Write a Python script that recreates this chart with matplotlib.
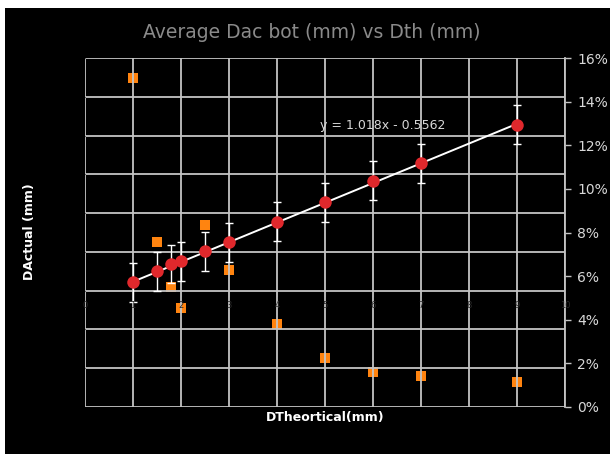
import matplotlib
matplotlib.use("Agg")
import matplotlib.pyplot as plt
import numpy as np
from matplotlib.patches import Rectangle
from matplotlib.ticker import FuncFormatter

# Data
d_th = [1, 1.5, 1.8, 2, 2.5, 3, 4, 5, 6, 7, 9]
d_actual = [0.43, 0.99, 1.37, 1.51, 2.03, 2.50, 3.56, 4.56, 5.67, 6.56, 8.56]
d_err = [1, 1, 1, 1, 1, 1, 1, 1, 1, 1, 1]
pct_err = [15.1, 7.55, 5.5, 4.54, 8.33, 6.27, 3.82, 2.26, 1.59, 1.44, 1.13]
slope, intercept = 1.018, -0.5562
x_ticks = [0, 1, 2, 3, 4, 5, 6, 7, 8, 9, 10]
y_ticks = [-6, -4, -2, 0, 2, 4, 6, 8, 10, 12]
pct_ticks = [0, 2, 4, 6, 8, 10, 12, 14, 16]

fig = plt.figure(figsize=(6.10, 4.57), dpi=100, facecolor="white")
fig.patches.append(Rectangle((5/610, 3/457), 605/610, (449-3)/457, transform=fig.transFigure,
                             facecolor="black", edgecolor="none", zorder=-5))

ax = fig.add_axes([85/610, 1-407/457, 480/610, 349/457])
ax.set_xlim(0, 10)
ax.set_ylim(-6, 12)
ax.set_xticks(x_ticks)
ax.set_yticks(y_ticks)
ax.grid(True, color="#c4c4c4", lw=1.3, zorder=1)
for s in ax.spines.values():
    s.set_visible(False)
ax.tick_params(axis="y", left=False, labelleft=False)
ax.tick_params(axis="x", bottom=False, labelbottom=False)
# dim x tick labels at y=0
for xv in x_ticks:
    ax.text(xv, -0.55, str(xv), color="#2a2a2a", fontsize=6, ha="center", va="top", zorder=6)
    ax.plot([xv, xv], [0, -0.3], color="#2a2a2a", lw=0.8, zorder=1.5)

ax2 = ax.twinx()
ax2.set_ylim(0, 16)
ax2.set_yticks(pct_ticks)
ax2.yaxis.set_major_formatter(FuncFormatter(lambda v, p: f"{v:.0f}%"))
for s in ["top", "left", "bottom"]:
    ax2.spines[s].set_visible(False)
ax2.spines["right"].set_color("#c4c4c4")
ax2.spines["right"].set_linewidth(1.3)
ax2.tick_params(axis="y", colors="#c4c4c4", labelcolor="#d8d8d8", labelsize=10,
                length=4, width=1, direction="out", pad=5)
ax2.scatter(d_th, pct_err, marker="s", s=60, color="#ff8410", zorder=3, linewidths=0)
ax2.set_facecolor("black")

# Put primary series on top
ax.set_zorder(ax2.get_zorder() + 1)
ax.patch.set_visible(False)

ax.errorbar(d_th, d_actual, yerr=d_err, fmt="none", ecolor="white", elinewidth=1,
            capsize=3, capthick=1, zorder=3)
xl = np.array([d_th[0], d_th[-1]])
ax.plot(xl, slope * xl + intercept, color="white", lw=1.4, zorder=4)
ax.plot(d_th, d_actual, "o", color="#e0282c", markersize=9, markeredgewidth=0, zorder=5)
ax.text(4.9, 8.5, f"y = {slope}x - {abs(intercept)}", color="#d8d8d8", fontsize=9,
        ha="left", va="center", zorder=6)

fig.text(312/610, 1-33/457, "Average Dac bot (mm) vs Dth (mm)", color="#8a8a8a",
         fontsize=13.5, ha="center", va="center")
fig.text(325/610, 1-418/457, "DTheortical(mm)", color="white", fontsize=9,
         fontweight="bold", ha="center", va="center")
fig.text(30/610, 1-232/457, "DActual (mm)", color="white", fontsize=9,
         fontweight="bold", ha="center", va="center", rotation=90)

fig.savefig("out.png", dpi=100, facecolor=fig.get_facecolor())
